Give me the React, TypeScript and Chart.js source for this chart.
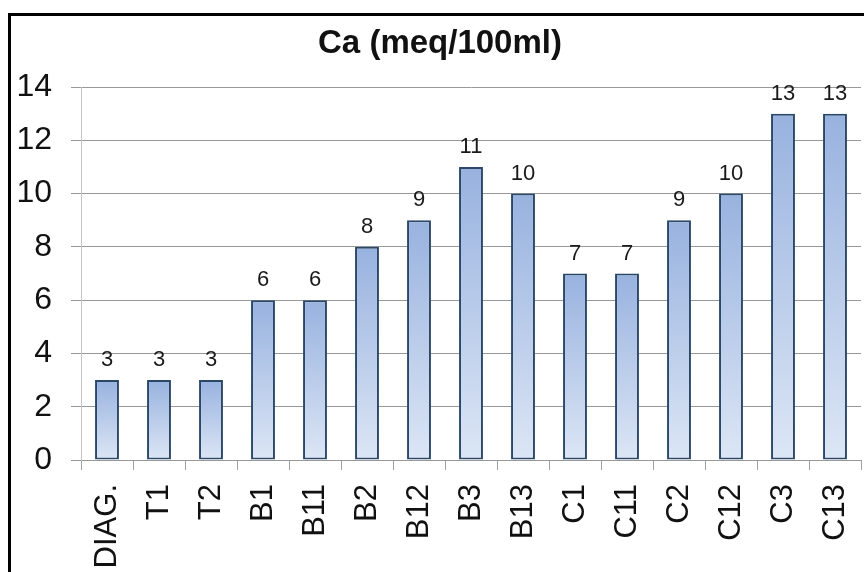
import React, { useEffect, useRef } from "react";
import { Chart, registerables } from "chart.js";

Chart.register(...registerables);

const categories = ["DIAG.", "T1", "T2", "B1", "B11", "B2", "B12", "B3", "B13", "C1", "C11", "C2", "C12", "C3", "C13"];
const caValues = [3, 3, 3, 6, 6, 8, 9, 11, 10, 7, 7, 9, 10, 13, 13];
const yTicks = [0, 2, 4, 6, 8, 10, 12, 14];
const chartTitle = "Ca (meq/100ml)";

const FONT = "'Liberation Sans', Arial, sans-serif";

const framePlugin = {
  id: "frame",
  beforeDraw(chart: any) {
    const ctx = chart.ctx;
    ctx.save();
    ctx.fillStyle = "#ffffff";
    ctx.fillRect(0, 0, chart.width, chart.height);
    ctx.strokeStyle = "#000000";
    ctx.lineWidth = 3;
    ctx.strokeRect(9.5, 14.5, chart.width + 50, chart.height + 50);
    ctx.font = `bold 33px ${FONT}`;
    ctx.fillStyle = "#111111";
    ctx.textAlign = "center";
    ctx.textBaseline = "middle";
    ctx.fillText(chartTitle, 440, 44);
    ctx.restore();
  },
};

const labelPlugin = {
  id: "valueLabels",
  afterDatasetsDraw(chart: any) {
    const ctx = chart.ctx;
    const meta = chart.getDatasetMeta(0);
    const data = chart.data.datasets[0].data as number[];
    ctx.save();
    ctx.font = `22px ${FONT}`;
    ctx.fillStyle = "#1a1a1a";
    ctx.textAlign = "center";
    ctx.textBaseline = "bottom";
    meta.data.forEach((el: any, i: number) => {
      ctx.fillText(String(data[i]), el.x, el.y - 9);
    });
    ctx.restore();
  },
};

export default function App() {
  const ref = useRef<HTMLCanvasElement | null>(null);

  useEffect(() => {
    if (!ref.current) return;
    const chart = new Chart(ref.current, {
      type: "bar",
      data: {
        labels: categories,
        datasets: [
          {
            data: caValues,
            backgroundColor: (c: any) => {
              const ch = c.chart;
              const ys = ch.scales?.y;
              if (!ch.chartArea || !ys || c.raw == null) return "#b4c8ea";
              const top = ys.getPixelForValue(c.raw);
              const bottom = ys.getPixelForValue(0);
              if (!isFinite(top) || !isFinite(bottom) || top === bottom) return "#b4c8ea";
              const g = ch.ctx.createLinearGradient(0, top, 0, bottom);
              g.addColorStop(0, "#98b2df");
              g.addColorStop(1, "#dce6f5");
              return g;
            },
            borderColor: "#2b4868",
            borderWidth: 2,
            borderSkipped: false,
            categoryPercentage: 1,
            barPercentage: 0.46,
          },
        ],
      },
      options: {
        animation: false,
        responsive: true,
        maintainAspectRatio: false,
        layout: { padding: { left: 0, right: 3, top: 87, bottom: 0 } },
        plugins: {
          legend: { display: false },
          tooltip: { enabled: false },
          title: { display: false },
        },
        scales: {
          x: {
            offset: true,
            grid: {
              offset: true,
              drawOnChartArea: false,
              drawTicks: true,
              tickLength: 10,
              color: "#a0a0a0",
            },
            border: { display: true, color: "#999999" },
            ticks: {
              autoSkip: false,
              maxRotation: 90,
              minRotation: 90,
              padding: 14,
              color: "#111111",
              font: { family: FONT, size: 31 },
            },
            afterFit: (s: any) => {
              s.height = 112;
              s.paddingLeft = 0;
              s.paddingRight = 0;
            },
          },
          y: {
            min: 0,
            max: 14,
            afterBuildTicks: (s: any) => {
              s.ticks = yTicks.map((v) => ({ value: v }));
            },
            grid: { color: "#999999", tickLength: 10, drawTicks: true },
            border: { display: true, color: "#c4c4c4" },
            ticks: {
              padding: 19,
              color: "#111111",
              font: { family: FONT, size: 32 },
            },
            afterFit: (s: any) => {
              s.width = 81;
              s.paddingTop = 0;
              s.paddingBottom = 0;
            },
          },
        },
      },
      plugins: [framePlugin, labelPlugin],
    });
    return () => chart.destroy();
  }, []);

  return (
    <div style={{ position: "fixed", left: 0, top: 0, width: 864, height: 572 }}>
      <canvas ref={ref} />
    </div>
  );
}
